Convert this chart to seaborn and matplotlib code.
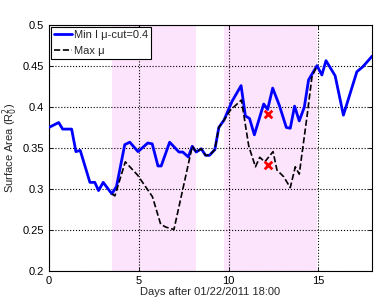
import numpy as np
import pandas as pd
import matplotlib
matplotlib.use('Agg')
import matplotlib.pyplot as plt
import seaborn as sns

# blue: minimum I with mu cut
blue_x = [0, 0.54, 0.76, 1.26, 1.5, 1.74, 2.28, 2.55, 2.76, 3.02, 3.5, 3.76,
          4.22, 4.5, 4.96, 5.5, 5.75, 6.07, 6.25, 6.72, 7.24, 7.45, 7.76, 7.98,
          8.2, 8.48, 8.72, 8.94, 9.24, 9.46, 9.75, 10.2, 10.7, 10.94, 11.17,
          11.44, 11.96, 12.18, 12.46, 12.83, 13.22, 13.44, 13.68, 13.94, 14.22,
          14.46, 14.93, 15.2, 15.43, 15.94, 16.4, 17.15, 17.48, 18.0]
blue_y = [0.375, 0.381, 0.373, 0.373, 0.3455, 0.347, 0.308, 0.308, 0.298, 0.308,
          0.294, 0.303, 0.354, 0.357, 0.3455, 0.356, 0.355, 0.328, 0.328, 0.357,
          0.345, 0.345, 0.339, 0.352, 0.345, 0.349, 0.341, 0.341, 0.348, 0.375,
          0.384, 0.407, 0.426, 0.389, 0.386, 0.366, 0.4036, 0.397, 0.423, 0.402,
          0.375, 0.374, 0.401, 0.383, 0.3996, 0.433, 0.4504, 0.439, 0.4565,
          0.438, 0.390, 0.443, 0.449, 0.462]

# black dashed: max mu
black_x = [3.5, 3.67, 4.25, 4.93, 5.76, 6.22, 6.5, 6.96, 7.98, 8.2, 8.48, 8.72,
           8.94, 9.24, 9.46, 9.75, 10.1, 10.72, 11.13, 11.5, 11.74, 12.02, 12.48,
           12.7, 13.07, 13.44, 13.72, 13.94, 14.37, 14.65, 14.93]
black_y = [0.294, 0.2915, 0.333, 0.317, 0.2906, 0.257, 0.2535, 0.2505, 0.352,
           0.345, 0.349, 0.341, 0.341, 0.348, 0.375, 0.384, 0.396, 0.4085, 0.352,
           0.327, 0.3386, 0.333, 0.3455, 0.323, 0.315, 0.3016, 0.327, 0.318,
           0.388, 0.437, 0.4504]

# red crosses
mark_x = [12.18, 12.2]
mark_y = [0.392, 0.329]

# shaded periods
spans = [(3.5, 8.2), (9.75, 14.95)]

sns.set_style('ticks')
plt.rcParams['font.family'] = ['Liberation Sans', 'DejaVu Sans']
plt.rcParams['font.size'] = 8

fig, ax = plt.subplots(figsize=(3.74, 3.01), dpi=100)
fig.subplots_adjust(left=0.131, right=0.995, bottom=0.10, top=0.917)

for a, b in spans:
    ax.axvspan(a, b, color='#fce4fc', lw=0, zorder=0)

sns.lineplot(x=blue_x, y=blue_y, ax=ax, color='#0000ff', lw=2,
             label='Min I \u03bc-cut=0.4', zorder=3)
sns.lineplot(x=black_x, y=black_y, ax=ax, color='k', lw=1.2,
             linestyle='--', label='Max \u03bc', zorder=4)
sns.scatterplot(x=mark_x, y=mark_y, ax=ax, color='red', marker='x', s=30,
                linewidth=2, zorder=5)

ax.set_xlim(0, 18)
ax.set_ylim(0.2, 0.5)
ax.set_xticks([0, 5, 10, 15])
ax.set_yticks([0.2, 0.25, 0.3, 0.35, 0.4, 0.45, 0.5])
ax.set_yticklabels(['0.2', '0.25', '0.3', '0.35', '0.4', '0.45', '0.5'])
ax.grid(True, linestyle=':', color='k', lw=0.8, zorder=1)
ax.set_axisbelow(False)
ax.tick_params(direction='in', top=True, right=True, length=3, width=0.6,
               colors='k', labelsize=8)
for s in ax.spines.values():
    s.set_visible(True)
    s.set_color('k')
    s.set_linewidth(0.8)

ax.set_xlabel('Days after 01/22/2011 18:00', fontsize=8, labelpad=1)
ax.set_ylabel('Surface Area (R$_0^2$)', fontsize=8, labelpad=2)

leg = ax.legend(loc='upper left', fancybox=False, edgecolor='k', framealpha=1,
                borderaxespad=0.15, handlelength=1.6, handletextpad=0.2,
                borderpad=0.3, labelspacing=0.5, fontsize=8)
leg.get_frame().set_linewidth(0.8)

fig.savefig('out.png', dpi=100)
